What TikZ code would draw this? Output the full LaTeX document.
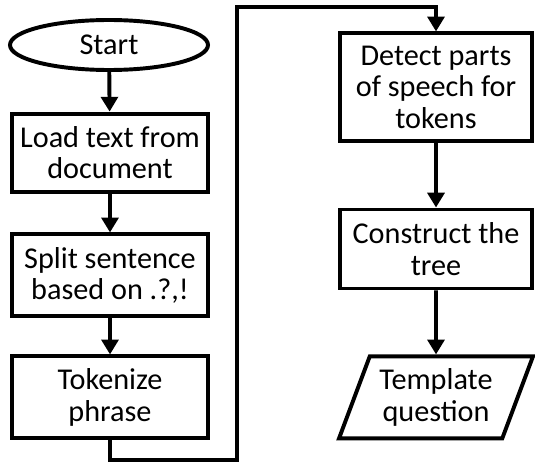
\documentclass[tikz,border=0pt]{standalone}
\usepackage{fontspec}
\setmainfont{Carlito}
\usetikzlibrary{shapes.geometric,arrows.meta}
\tikzstyle{proc_box}=[rectangle,draw,line width=2.8pt,fill=white,align=center,inner sep=2pt]
\tikzstyle{term_fill}=[ellipse,draw,line width=2.8pt,fill=white,minimum width=4.95cm,minimum height=1.25cm]
\tikzstyle{io_fill}=[trapezium,trapezium left angle=67,trapezium right angle=113,trapezium stretches=true,draw,line width=2.8pt,fill=white,align=center,minimum width=4.85cm,minimum height=2.05cm]
\tikzstyle{flow}=[line width=2.8pt,-{Triangle[length=3.7mm,width=4.2mm]}]

\begin{document}
\begin{tikzpicture}[font=\fontsize{21.5}{22.5}\selectfont]
\useasboundingbox (0,0) rectangle (13.375,11.625);
\node (start) at (2.725,10.5)[term_fill] {Start};
\node (load) at (2.75,7.81)[proc_box,minimum width=4.9cm,minimum height=1.95cm] {Load text from\\document};
\node (split) at (2.75,4.74)[proc_box,minimum width=4.9cm,minimum height=2.05cm] {Split sentence\\based on .?,!};
\node (token) at (2.75,1.69)[proc_box,minimum width=4.9cm,minimum height=2.05cm] {Tokenize\\phrase};
\node (detect) at (10.9,9.44)[proc_box,minimum width=4.8cm,minimum height=2.7cm] {Detect parts\\of speech for\\tokens};
\node (tree) at (10.9,5.4)[proc_box,minimum width=4.8cm,minimum height=1.975cm] {Construct the\\tree};
\node (templ) at (10.9,1.69)[io_fill] {Template\\question};
\coordinate (low) at (5.925,0.125);\coordinate (high) at (5.925,11.45);
\draw[flow] (start) -- (load);\draw[flow] (load) -- (split);
\draw[flow] (split) -- (token);
\draw[flow] (token.south) |- (low) -- (high) -| (detect.north);
\draw[flow] (detect) -- (tree);\draw[flow] (tree) -- (templ);

\end{tikzpicture}
\end{document}
